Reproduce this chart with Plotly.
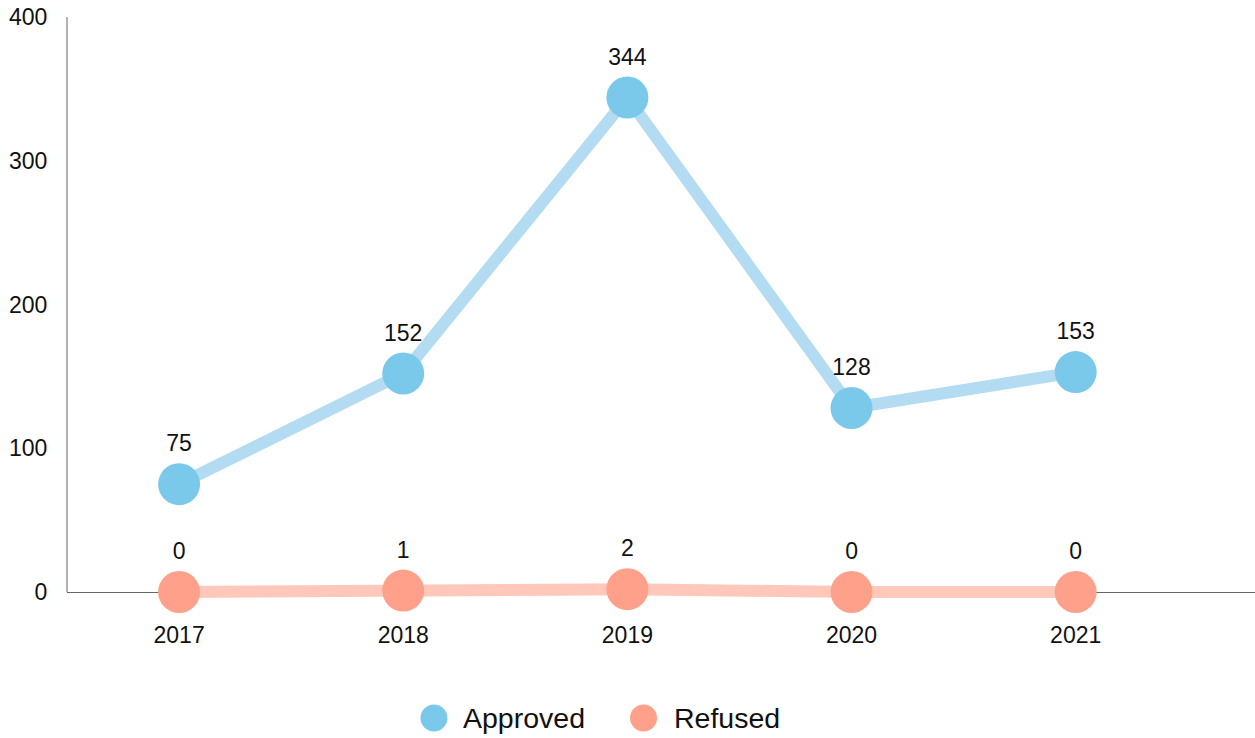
import plotly.graph_objects as go

years = ["2017", "2018", "2019", "2020", "2021"]
approved = [75, 152, 344, 128, 153]
refused = [0, 1, 2, 0, 0]
y_ticks = [0, 100, 200, 300, 400]

FONT = "Liberation Sans, Arial, sans-serif"
Y_MAX = 400
PAD_PX = 10          # extra room below zero so the zero line isn't clipped
PLOT_H = 575         # pixel height from 0 to Y_MAX
y_min = -Y_MAX * PAD_PX / PLOT_H

fig = go.Figure()

series = [
    ("Approved", approved, "#b3dcf2", "#7bc9ea"),
    ("Refused", refused, "#ffc8bb", "#ffa08a"),
]
for name, vals, lc, mc in series:
    fig.add_trace(go.Scatter(
        x=years, y=vals, mode="lines+markers+text", name=name,
        text=[str(v) for v in vals], textposition="top center",
        textfont=dict(size=23, color="#111", family=FONT),
        line=dict(color=lc, width=12),
        marker=dict(color=mc, size=42),
        cliponaxis=False, showlegend=False, hoverinfo="x+y",
    ))

# y axis line from 0 to max
fig.add_shape(type="line", xref="paper", yref="y", x0=0, x1=0, y0=0, y1=Y_MAX,
              line=dict(color="#666", width=1), layer="below")

# custom legend (large circle symbols); legend centre ~126 px below the zero line
legend_y = -(126 + PAD_PX) / (PLOT_H + PAD_PX) + 0.0  # paper coords from plot bottom
legend_y = -(718 - (592 + PAD_PX)) / (PLOT_H + PAD_PX)
legend_pos = [(0.3089, 0.3316), (0.4853, 0.5093)]
for (name, vals, lc, mc), (cx, tx) in zip(series, legend_pos):
    fig.add_shape(type="circle", xref="paper", yref="paper",
                  xsizemode="pixel", ysizemode="pixel",
                  xanchor=cx, yanchor=legend_y,
                  x0=-13.5, x1=13.5, y0=-13.5, y1=13.5,
                  fillcolor=mc, line=dict(width=0))
    fig.add_annotation(text=name, xref="paper", yref="paper",
                       x=tx, y=legend_y, xanchor="left", yanchor="middle",
                       showarrow=False,
                       font=dict(size=28.5, family=FONT, color="#111"))

fig.update_layout(
    width=1255, height=738,
    margin=dict(l=67, r=0, t=17, b=146 - PAD_PX),
    paper_bgcolor="white", plot_bgcolor="white",
    font=dict(family=FONT, size=23, color="#111"),
    showlegend=False,
    xaxis=dict(type="category", range=[-0.5, 4.8], showgrid=False,
               showline=False,
               ticks="outside", ticklen=22 - PAD_PX, tickcolor="rgba(0,0,0,0)",
               tickfont=dict(size=23), zeroline=False),
    yaxis=dict(range=[y_min, Y_MAX], tickvals=y_ticks, showgrid=False,
               showline=False,
               ticks="outside", ticklen=14, tickcolor="rgba(0,0,0,0)",
               tickfont=dict(size=23),
               zeroline=True, zerolinecolor="#666", zerolinewidth=1),
)

fig.write_html("out.html", config={"displayModeBar": False},
               post_script="document.body.style.margin='0';")
